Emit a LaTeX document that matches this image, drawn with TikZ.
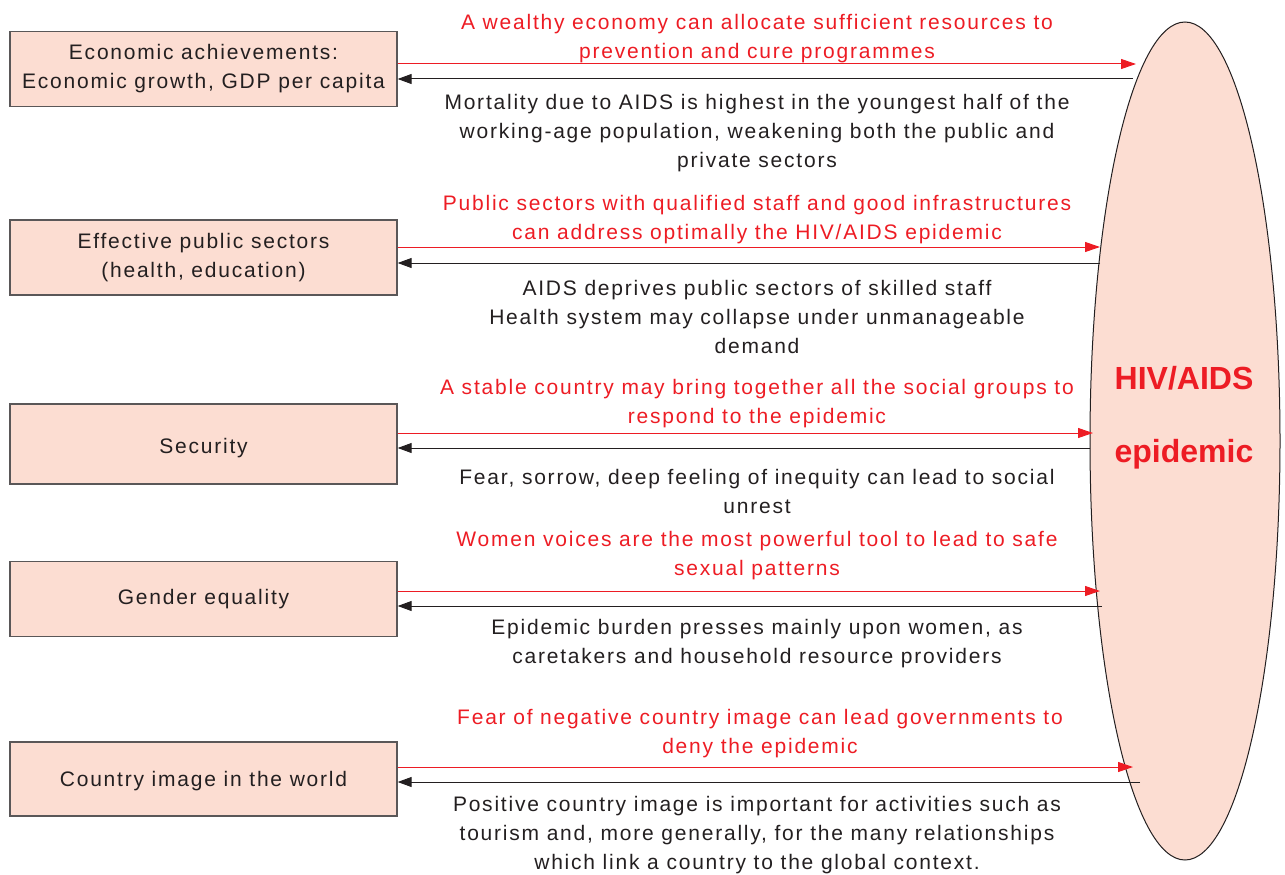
\documentclass[tikz,border=0pt]{standalone}
\usepackage{fontspec}
\setmainfont[LetterSpace=8.5]{Liberation Sans}
\newfontfamily\epifont{Liberation Sans}
\usepackage{xcolor}
\usetikzlibrary{arrows.meta, positioning, shapes.geometric}

\definecolor{boxfill}{RGB}{252,221,210}
\definecolor{aidsred}{RGB}{237,28,36}
\definecolor{inkgray}{RGB}{35,31,32}

\begin{document}
\begin{tikzpicture}[x=1pt, y=-1pt,
    every node/.style={font=\fontsize{21}{29}\selectfont, text=inkgray, align=center},
    factor/.style={draw=inkgray!75, line width=1.3pt, fill=boxfill, minimum width=387pt, minimum height=75pt, inner sep=0pt},
    effect/.style={text=aidsred},
    toaids/.style={draw=aidsred, line width=1pt, -{Triangle[length=15pt, width=10pt]}},
    fromaids/.style={draw=inkgray, line width=1pt, -{Triangle[length=14pt, width=10pt]}}]
  \useasboundingbox (0,0) rectangle (1285,875);

  % the epidemic
  \node[ellipse, draw=inkgray, line width=1pt, fill=boxfill, minimum width=190pt, minimum height=838pt] (epi) at (1185,441) {};
  \node[font=\fontsize{32}{73}\selectfont\epifont\bfseries, text=aidsred] (epilabel) at (1184,418) {HIV/AIDS\\epidemic};

  % development factors
  \node[factor] (econ) at (203.5,69) {Economic achievements:\\Economic growth, GDP per capita};
  \node[factor] (public) at (203.5,257.5) {Effective public sectors\\(health, education)};
  \node[factor, minimum height=80pt] (secur) at (203.5,444) {\raisebox{-9.5pt}[0pt][0pt]{Security}};
  \node[factor] (gender) at (203.5,599) {Gender equality};
  \node[factor, minimum height=74pt] (image) at (203.5,779) {\raisebox{-7pt}[0pt][0pt]{Country image in the world}};

  % arrow ends at the ellipse
  \coordinate (econR) at (1136,64);   \coordinate (econB) at (1133,79);
  \coordinate (publicR) at (1100,247); \coordinate (publicB) at (1100,263);
  \coordinate (securR) at (1093,433);  \coordinate (securB) at (1090,448);
  \coordinate (genderR) at (1100,591); \coordinate (genderB) at (1102,606);
  \coordinate (imageR) at (1133,767);  \coordinate (imageB) at (1140,782);

  \foreach \f in {econ, public, secur, gender, image} {
    \draw[toaids] (\f.east |- \f R) -- (\f R);
    \draw[fromaids] (\f B) -- (\f.east |- \f B);
  }

  % labels
  \node[effect] (econup) at (757,38.5) {A wealthy economy can allocate sufficient resources to\\prevention and cure programmes};
  \node (econdown) at (757,133.5) {Mortality due to AIDS is highest in the youngest half of the\\working-age population, weakening both the public and\\private sectors};

  \node[effect] (publicup) at (757,219.5) {Public sectors with qualified staff and good infrastructures\\can address optimally the HIV/AIDS epidemic};
  \node (publicdown) at (757,317) {AIDS deprives public sectors of skilled staff\\Health system may collapse under unmanageable\\demand};

  \node[effect] (securup) at (757,403.5) {A stable country may bring together all the social groups to\\respond to the epidemic};
  \node (securdown) at (757,491) {Fear, sorrow, deep feeling of inequity can lead to social\\unrest};

  \node[effect] (genderup) at (757,556) {Women voices are the most powerful tool to lead to safe\\sexual patterns};
  \node (genderdown) at (757,644) {Epidemic burden presses mainly upon women, as\\caretakers and household resource providers};

  \node[effect] (imageup) at (760,734) {Fear of negative country image can lead governments to\\deny the epidemic};
  \node (imagedown) at (757,835.5) {Positive country image is important for activities such as\\tourism and, more generally, for the many relationships\\which link a country to the global context.};
\end{tikzpicture}
\end{document}
